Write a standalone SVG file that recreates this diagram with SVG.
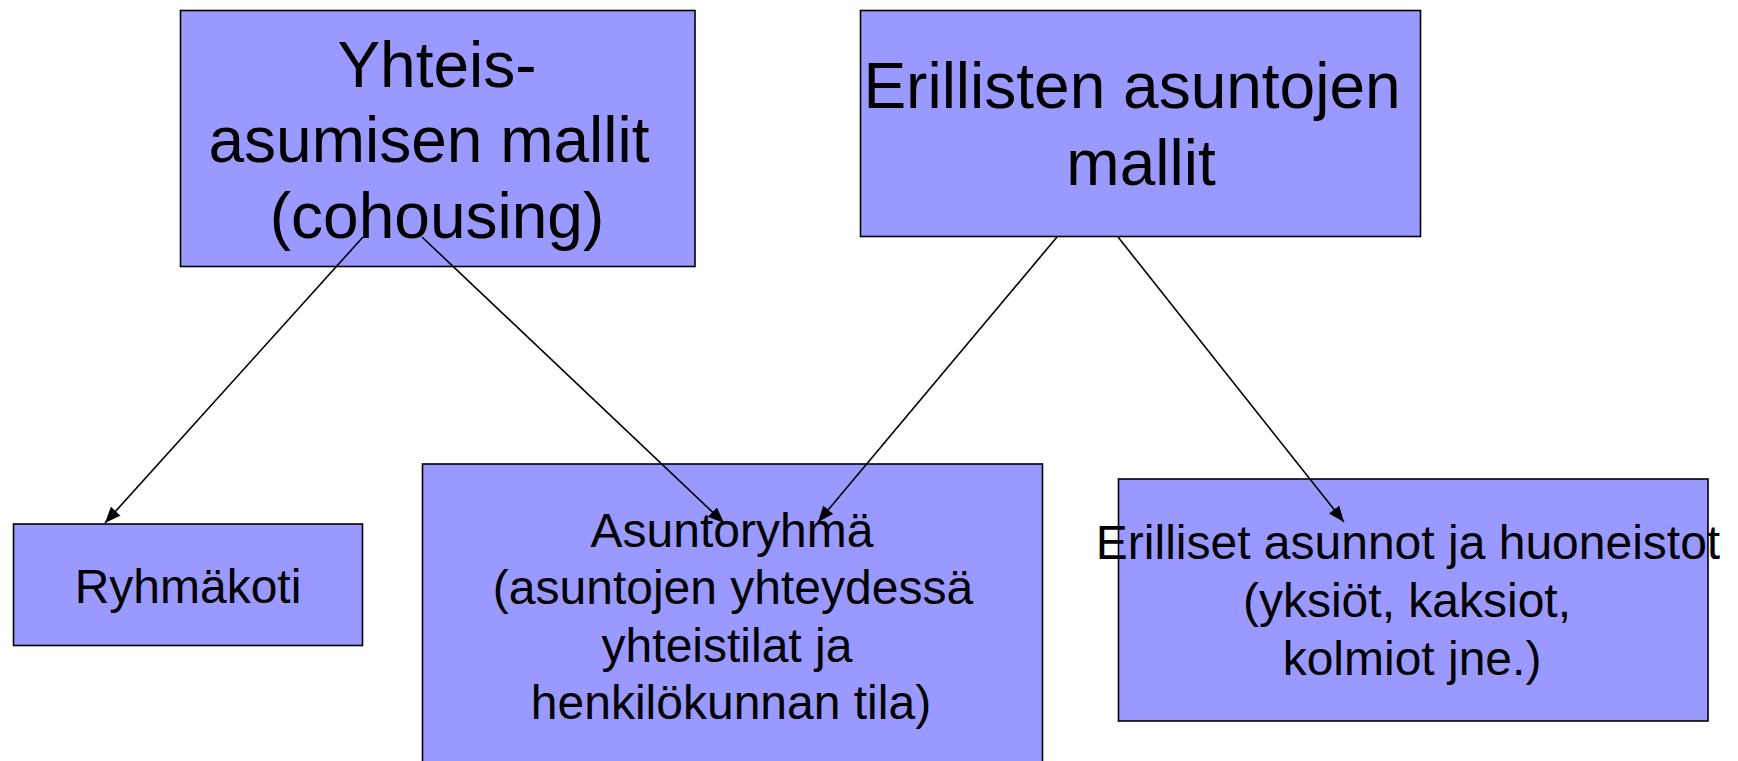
<svg xmlns="http://www.w3.org/2000/svg" width="1738" height="761" viewBox="0 0 1738 761">
<style>
.box{fill:#9999ff;stroke:#000;stroke-width:1.6}
.big{font-family:"Liberation Sans",Arial,sans-serif;font-size:64px;fill:#000;text-anchor:middle}
.sm{font-family:"Liberation Sans",Arial,sans-serif;font-size:48px;fill:#000;text-anchor:middle}
.conn{stroke:#000;stroke-width:1.6;fill:none;marker-end:url(#arr)}
</style>
<defs>
<marker id="arr" markerUnits="userSpaceOnUse" markerWidth="18" markerHeight="14" refX="16" refY="6.5" orient="auto">
<path d="M0,0 L16,6.5 L0,13 z" fill="#000"/>
</marker>
</defs>
<rect width="1738" height="761" fill="#fff"/>
<g id="yhteis">
<rect class="box" x="180.5" y="10.5" width="514.5" height="256"/>
<text class="big" x="437" y="87">Yhteis-</text>
<text class="big" x="429" y="162">asumisen mallit</text>
<text class="big" x="437" y="238">(cohousing)</text>
</g>
<g id="erillisten">
<rect class="box" x="860.5" y="10.5" width="560" height="226"/>
<text class="big" x="1132" y="108">Erillisten asuntojen</text>
<text class="big" x="1141" y="185">mallit</text>
</g>
<g id="ryhmakoti">
<rect class="box" x="13.5" y="524" width="349" height="121.5"/>
<text class="sm" x="188" y="603">Ryhmäkoti</text>
</g>
<g id="asuntoryhma">
<rect class="box" x="422.5" y="464" width="620" height="310"/>
<text class="sm" x="732" y="547">Asuntoryhmä</text>
<text class="sm" x="733" y="604">(asuntojen yhteydessä</text>
<text class="sm" x="727" y="662">yhteistilat ja</text>
<text class="sm" x="731" y="719">henkilökunnan tila)</text>
</g>
<g id="erilliset">
<rect class="box" x="1118.5" y="479" width="589.5" height="242"/>
<text class="sm" x="1408" y="559">Erilliset asunnot ja huoneistot</text>
<text class="sm" x="1407" y="617">(yksiöt, kaksiot,</text>
<text class="sm" x="1412" y="675">kolmiot jne.)</text>
</g>
<g id="connectors">
<line class="conn" x1="363" y1="237" x2="105" y2="523"/>
<line class="conn" x1="422" y1="237" x2="724" y2="523"/>
<line class="conn" x1="1057" y1="237" x2="818" y2="522"/>
<line class="conn" x1="1118" y1="237" x2="1344" y2="522"/>
</g>
</svg>
